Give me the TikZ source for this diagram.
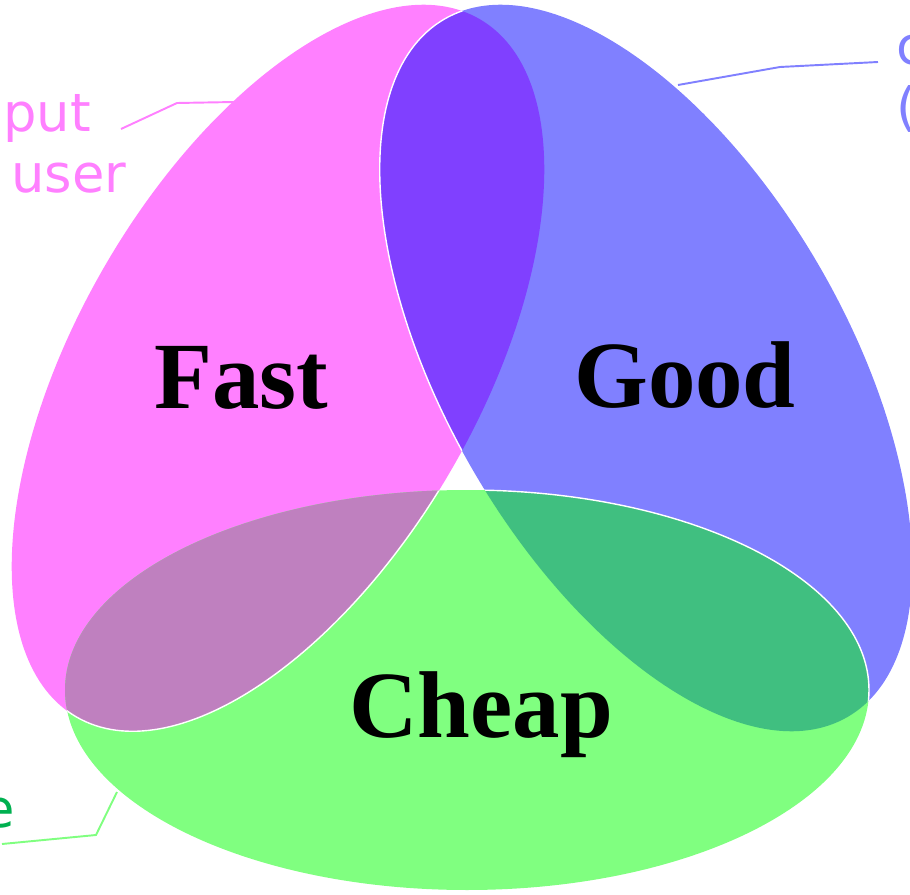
\documentclass[tikz,border=0pt]{standalone}
\usepackage{fontspec}
\setmainfont{Liberation Serif}
\newfontfamily\tagfont{DejaVu Sans}

\definecolor{pinkc}{HTML}{FF80FF}
\definecolor{bluec}{HTML}{8080FF}
\definecolor{greenc}{HTML}{80FF80}
\definecolor{pinkblue}{HTML}{8040FF}
\definecolor{pinkgreen}{HTML}{BF80BF}
\definecolor{bluegreen}{HTML}{40BF80}
\definecolor{greentext}{HTML}{00B050}

\newcommand{\pinkegg}{(278,526) ellipse [x radius=403, y radius=201, rotate=60]}
\newcommand{\blueegg}{(646,526) ellipse [x radius=403, y radius=201, rotate=-60]}
\newcommand{\greenegg}{(467,204) ellipse [x radius=402, y radius=200]}

\begin{document}
\begin{tikzpicture}[x=0.02cm, y=0.02cm,
	word/.style={font=\bfseries\fontsize{54}{60}\selectfont, inner sep=0, anchor=base},
	tag/.style={font=\tagfont\fontsize{30}{36}\selectfont, inner sep=0},
	leader/.style={line width=1.1pt},
	seam/.style={draw=white, line width=0.8pt}]
			\useasboundingbox (0,0) rectangle (910,894);
			\fill[pinkc] \pinkegg;
			\fill[bluec] \blueegg;
			\fill[greenc] \greenegg;
			\begin{scope}
				\clip \pinkegg;
				\fill[pinkblue] \blueegg;
				\draw[seam] \blueegg;
			\end{scope}
			\begin{scope}
				\clip \greenegg;
				\fill[pinkgreen] \pinkegg;
				\draw[seam] \pinkegg;
			\end{scope}
			\begin{scope}
				\clip \blueegg;
				\fill[bluegreen] \greenegg;
				\draw[seam] \greenegg;
			\end{scope}
			\node[word] (fast) at (241,486) {Fast};
			\node[word] (good) at (685,487) {Good};
			\node[word] (cheap) at (481,157) {Cheap};
			\node[tag, text=pinkc, anchor=base west] (fasttaga) at (3,762) {put};
			\node[tag, text=pinkc, anchor=base west] (fasttagb) at (11,701) {user};
			\node[tag, text=bluec, anchor=base west] (goodtaga) at (896,829) {c};
			\node[tag, text=bluec, anchor=base west] (goodtagb) at (896,768) {(};
			\node[tag, text=greentext, anchor=base east] (cheaptag) at (15,67) {e};
			\coordinate (fastend) at (121,765);
			\coordinate (fastbend) at (177,791);
			\coordinate (fastpin) at (235,792);
			\coordinate (goodpin) at (678,809);
			\coordinate (goodbend) at (780,827);
			\coordinate (goodend) at (878,832);
			\coordinate (cheapend) at (2,50);
			\coordinate (cheapbend) at (96,59);
			\coordinate (cheappin) at (117,102);
			\draw[leader, pinkc] (fastend) -- (fastbend) -- (fastpin);
			\draw[leader, bluec] (goodpin) -- (goodbend) -- (goodend);
			\draw[leader, greenc] (cheapend) -- (cheapbend) -- (cheappin);
\end{tikzpicture}
\end{document}
